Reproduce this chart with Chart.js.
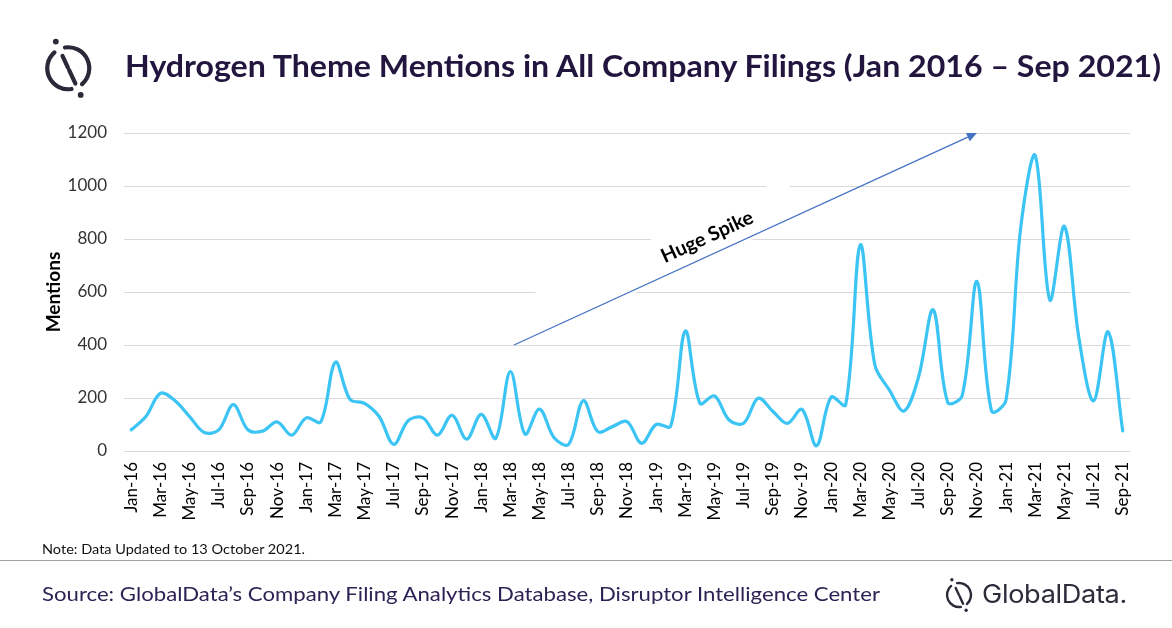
<!DOCTYPE html>
<html>
<head>
<meta charset="utf-8">
<script src="https://cdn.jsdelivr.net/npm/chart.js@4.4.1/dist/chart.umd.min.js"></script>
<style>
html,body{margin:0;padding:0;background:#fff;}
#wrap{position:relative;width:1172px;height:628px;overflow:hidden;background:#fff;}
#c{position:absolute;left:0;top:0;}
.t{position:absolute;white-space:nowrap;transform-origin:0 0;line-height:1.2;margin:0;}
#title{left:125px;font-family:Lato;font-weight:700;font-size:31px;color:#22163F;}
#note{left:42px;font-family:Lato;font-size:14px;color:#111;}
#source{left:42px;font-family:Lato;font-size:20px;color:#2E2254;}
#gd{left:982px;font-family:Inter;font-size:25px;color:#2E2B3B;letter-spacing:-0.3px;}
#sep{position:absolute;left:0;top:560px;width:1172px;height:0;border-top:1.5px solid #A0A0A0;}
svg.icon{position:absolute;overflow:visible;}
</style>
</head>
<body>
<div id="wrap">
<canvas id="c" width="1172" height="628"></canvas>
<svg class="icon" id="icon1" style="left:41.75px;top:41.75px;width:52.5px;height:52.5px" viewBox="0 0 100 100"></svg>
<div class="t" id="title" data-w="1036" data-b="77">Hydrogen Theme Mentions in All Company Filings (Jan 2016 – Sep 2021)</div>
<div class="t" id="note" data-w="263" data-b="554">Note: Data Updated to 13 October 2021.</div>
<div id="sep"></div>
<div class="t" id="source" data-w="838" data-b="601">Source: GlobalData’s Company Filing Analytics Database, Disruptor Intelligence Center</div>
<svg class="icon" id="icon2" style="left:944px;top:580px;width:30px;height:30px" viewBox="0 0 100 100"></svg>
<div class="t" id="gd" data-w="145" data-b="603">GlobalData.</div>
</div>
<script>
// ---- data ----
const months = [
 'Jan-16','Feb-16','Mar-16','Apr-16','May-16','Jun-16','Jul-16','Aug-16','Sep-16','Oct-16','Nov-16','Dec-16',
 'Jan-17','Feb-17','Mar-17','Apr-17','May-17','Jun-17','Jul-17','Aug-17','Sep-17','Oct-17','Nov-17','Dec-17',
 'Jan-18','Feb-18','Mar-18','Apr-18','May-18','Jun-18','Jul-18','Aug-18','Sep-18','Oct-18','Nov-18','Dec-18',
 'Jan-19','Feb-19','Mar-19','Apr-19','May-19','Jun-19','Jul-19','Aug-19','Sep-19','Oct-19','Nov-19','Dec-19',
 'Jan-20','Feb-20','Mar-20','Apr-20','May-20','Jun-20','Jul-20','Aug-20','Sep-20','Oct-20','Nov-20','Dec-20',
 'Jan-21','Feb-21','Mar-21','Apr-21','May-21','Jun-21','Jul-21','Aug-21','Sep-21'
];
const mentions = [
 80,130,218,190,130,70,80,175,80,75,110,60,
 125,110,335,195,180,130,25,115,125,60,135,45,
 138,48,300,64,158,50,25,190,73,92,111,29,
 100,94,453,180,208,117,105,199,150,104,157,20,
 203,174,778,325,230,151,280,533,183,211,640,151,
 193,840,1115,570,848,425,189,450,76
];
const yMin = 0, yMax = 1200, yStep = 200;
const yTitle = 'Mentions';
// annotation anchored in data space: [category index, value]
const arrowFrom = [26.25, 400];
const arrowTo = [58, 1200];
const noteLabel = 'Huge Spike';
const noteAt = [39.5, 808];

// ---- icons ----
function iconSVG(){
  return '<path d="M43.74 10.49 A40 40 0 0 1 76.24 80.19" fill="none" stroke="#2B2838" stroke-width="8" stroke-linecap="round"/>' +
    '<path d="M56.26 89.51 A40 40 0 0 1 23.76 19.81" fill="none" stroke="#2B2838" stroke-width="8" stroke-linecap="round"/>' +
    '<line x1="39" y1="26.4" x2="49.2" y2="48.2" stroke="#2B2838" stroke-width="8" stroke-linecap="round"/>' +
    '<line x1="51.7" y1="53.6" x2="63.5" y2="79" stroke="#2B2838" stroke-width="8" stroke-linecap="round"/>' +
    '<circle cx="26.3" cy="-0.8" r="5.5" fill="#2B2838"/>' +
    '<circle cx="73.7" cy="100.8" r="5.5" fill="#2B2838"/>';
}
document.getElementById('icon1').innerHTML = iconSVG();
document.getElementById('icon2').innerHTML = iconSVG();

function placeText(){
  document.querySelectorAll('.t').forEach(el => {
    const w = parseFloat(el.dataset.w), b = parseFloat(el.dataset.b);
    const m = document.createElement('span');
    m.style.cssText = 'display:inline-block;width:0;height:0;vertical-align:baseline;';
    el.appendChild(m);
    el.style.top = '0px';
    const off = m.offsetTop;
    el.removeChild(m);
    el.style.top = (b - off) + 'px';
    const rw = el.getBoundingClientRect().width;
    if (w && rw) el.style.transform = 'scaleX(' + (w / rw) + ')';
  });
}

function rotationOf(chart){
  const x = chart.scales.x, y = chart.scales.y;
  const x1 = x.getPixelForValue(arrowFrom[0]), y1 = y.getPixelForValue(arrowFrom[1]);
  const x2 = x.getPixelForValue(arrowTo[0]), y2 = y.getPixelForValue(arrowTo[1]);
  return {x1, y1, x2, y2, ang: Math.atan2(y2 - y1, x2 - x1)};
}

const boxPlugin = {
  id: 'labelBox',
  beforeDatasetsDraw(chart){
    const {ang} = rotationOf(chart);
    const cx = chart.scales.x.getPixelForValue(noteAt[0]);
    const cy = chart.scales.y.getPixelForValue(noteAt[1]);
    const ctx = chart.ctx;
    ctx.save();
    ctx.translate(cx, cy);
    ctx.rotate(ang);
    ctx.fillStyle = '#fff';
    ctx.fillRect(-184, -21, 280, 42);
    ctx.restore();
  }
};

const arrowPlugin = {
  id: 'arrow',
  afterDatasetsDraw(chart){
    const {x1, y1, x2, y2, ang} = rotationOf(chart);
    const ctx = chart.ctx;
    ctx.save();
    ctx.strokeStyle = '#4472C4';
    ctx.fillStyle = '#4472C4';
    ctx.lineWidth = 1.25;
    const hl = 10, hw = 4.5;
    const bx = x2 - hl * Math.cos(ang), by = y2 - hl * Math.sin(ang);
    ctx.beginPath();
    ctx.moveTo(x1, y1);
    ctx.lineTo(bx, by);
    ctx.stroke();
    ctx.beginPath();
    ctx.moveTo(x2, y2);
    ctx.lineTo(bx - hw * Math.sin(ang), by + hw * Math.cos(ang));
    ctx.lineTo(bx + hw * Math.sin(ang), by - hw * Math.cos(ang));
    ctx.closePath();
    ctx.fill();
    // label
    const cx = chart.scales.x.getPixelForValue(noteAt[0]);
    const cy = chart.scales.y.getPixelForValue(noteAt[1]);
    ctx.font = 'bold 18px Lato';
    const mw = ctx.measureText(noteLabel).width;
    const fs = 18 * 99 / mw;
    ctx.font = 'bold ' + fs.toFixed(2) + 'px Lato';
    ctx.translate(cx, cy);
    ctx.rotate(ang);
    ctx.fillStyle = '#000';
    ctx.textAlign = 'center';
    ctx.textBaseline = 'middle';
    ctx.fillText(noteLabel, 0, 0);
    ctx.restore();
  }
};

function draw(){
  placeText();
  new Chart(document.getElementById('c'), {
    type: 'line',
    data: {
      labels: months,
      datasets: [{
        data: mentions,
        borderColor: '#3BC4F4',
        borderWidth: 3.2,
        pointRadius: 0,
        pointHoverRadius: 0,
        tension: 0.35,
        fill: false,
        borderCapStyle: 'round',
        borderJoinStyle: 'round'
      }]
    },
    options: {
      responsive: false,
      animation: false,
      layout: {padding: {left: 0, right: 42, top: 133, bottom: 0}},
      plugins: {legend: {display: false}, tooltip: {enabled: false}},
      scales: {
        x: {
          offset: true,
          grid: {display: false, drawTicks: false},
          border: {display: false},
          ticks: {
            autoSkip: false, maxRotation: 90, minRotation: 90, padding: 11,
            color: '#000', font: {family: 'Lato', size: 17},
            callback: function(v, i){ return i % 2 === 0 ? this.getLabelForValue(v) : ''; }
          },
          afterFit: s => { s.height = 177; }
        },
        y: {
          min: yMin, max: yMax,
          grid: {color: '#D9D9D9', lineWidth: 1, drawTicks: false},
          border: {display: false},
          ticks: {stepSize: yStep, padding: 17, color: '#333', font: {family: 'Lato', size: 17},
                  callback: v => String(v)},
          title: {display: true, text: yTitle, color: '#000', font: {family: 'Lato', size: 19, weight: 'bold'}, padding: {top: 42, bottom: 0}},
          afterFit: s => { s.width = 124; }
        }
      }
    },
    plugins: [boxPlugin, arrowPlugin]
  });
}

Promise.all([
  document.fonts.load('16px Lato'),
  document.fonts.load('bold 16px Lato'),
  document.fonts.load('25px Inter')
]).then(draw, draw);
</script>
</body>
</html>
